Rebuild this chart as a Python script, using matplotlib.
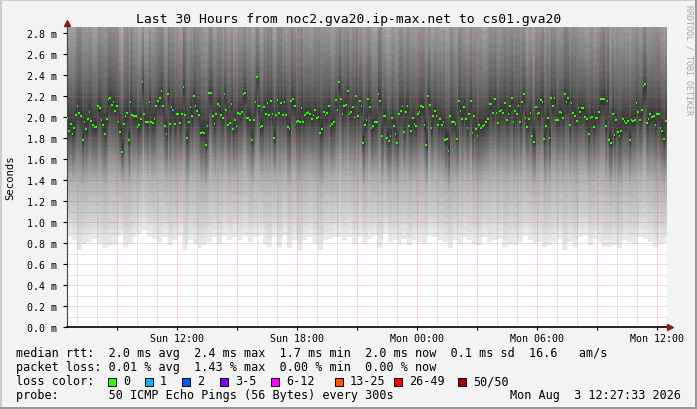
import numpy as np
import matplotlib
matplotlib.use("Agg")
import matplotlib.pyplot as plt
from matplotlib.patches import Rectangle

# median rtt of each 5 min sample in ms, read left to right off the graph
median_ms = [
    1.99, 1.87, 1.93, 1.84, 1.89, 2.02, 2.10, 2.04, 2.01, 1.78, 1.95, 1.88, 1.98, 2.05, 1.96, 1.92,
    1.90, 1.90, 2.10, 2.08, 1.97, 1.92, 1.84, 1.98, 2.17, 2.18, 2.11, 2.14, 2.06, 2.10, 1.95, 1.86,
    1.67, 1.93, 2.01, 2.04, 1.78, 2.14, 2.02, 2.01, 2.01, 1.90, 1.92, 1.98, 2.33, 2.03, 1.95, 1.95,
    2.14, 1.95, 1.94, 1.98, 2.10, 2.15, 2.18, 2.25, 2.10, 1.91, 1.84, 2.22, 1.93, 2.09, 2.07, 1.93,
    2.03, 2.03, 1.94, 2.03, 2.28, 2.02, 1.80, 1.95, 2.09, 2.01, 2.20, 2.10, 2.06, 2.02, 1.85, 1.86,
    1.85, 1.73, 1.91, 2.23,
    2.23, 2.01, 1.93, 2.03, 2.12, 2.10, 2.02, 1.99, 2.22, 2.07, 1.92, 1.94, 2.12, 1.88, 1.97, 1.91,
    2.04, 2.03, 2.05, 2.22, 2.23, 1.99, 1.99, 1.97, 1.78, 1.97, 2.14, 2.38, 2.10, 1.90, 1.91, 2.09,
    2.03, 2.13, 2.02, 2.15, 2.03, 1.80, 2.02, 2.16, 2.04, 2.13, 2.02, 2.14, 2.02, 1.90, 1.88, 2.15,
    2.17, 2.10, 1.95, 1.96, 1.95, 2.08, 1.95, 2.02, 2.04, 2.05, 2.03, 1.98, 2.02, 2.07, 1.99, 2.00,
    1.85, 1.88, 2.05, 2.02, 2.04, 2.10, 1.91, 1.93, 1.95, 2.16, 2.07, 2.33, 2.17, 2.03, 2.10, 2.11,
    2.25, 2.03, 2.05, 2.09, 2.00, 2.20, 2.01, 2.15, 2.10,
    1.75, 1.92, 1.97, 2.17, 2.09, 1.89, 1.91, 1.95, 1.95, 2.22, 2.15, 1.82, 2.01, 2.01, 1.80, 1.77,
    1.82, 1.99, 1.91, 1.84, 1.75, 2.03, 2.06, 2.10, 1.86, 2.05, 2.10, 1.91, 1.87, 1.99, 1.93, 1.91,
    2.03, 2.05, 2.10, 2.09, 1.92, 1.73, 2.20, 2.11, 1.89, 2.01, 2.06, 2.01, 1.92, 1.98, 1.92, 1.95,
    1.78, 1.79, 1.68, 2.01, 1.95, 1.95, 1.93, 1.79, 2.15, 2.06, 1.98, 2.09, 1.98, 1.89, 2.03, 2.15,
    1.85, 2.01, 1.88, 1.82, 1.92, 1.89, 1.91, 1.92, 1.95, 1.98, 2.12, 2.12, 2.04, 2.17, 2.04, 1.94,
    2.06, 2.07, 2.04, 2.13, 1.97, 2.03, 2.10, 2.18, 1.95,
    2.06, 2.03, 2.10, 1.95, 2.14, 2.22, 1.99, 1.90, 1.98, 2.04, 1.82, 1.76, 2.09, 2.03, 2.04, 2.16,
    2.14, 1.79, 1.91, 1.99, 1.80, 2.18, 2.10, 2.18, 1.97, 1.97, 2.05, 2.04, 1.99, 2.22, 2.14, 2.18,
    1.92, 2.13, 2.04, 2.01, 1.96, 2.08, 2.05, 2.08, 2.08, 2.00, 1.98, 1.84, 1.99, 2.00, 1.90, 1.99,
    1.99, 2.05, 2.17, 2.17, 2.17, 1.91, 2.15, 1.78, 1.75, 2.03, 1.83, 1.97, 1.86, 1.82, 1.87, 1.98,
    1.96, 1.94, 1.96, 1.78, 1.97, 1.96, 1.97, 2.13, 2.05, 1.97, 2.07, 2.29, 2.31, 1.94, 1.98, 2.03,
    2.00, 2.01, 1.92, 2.03, 2.03, 1.89, 1.87, 1.79, 1.96,
]

# lowest ping (bottom edge of the smoke) every 15 min, ms
lowest_ms = [
    0.86, 0.83, 0.73, 0.79, 0.81, 0.84, 0.79, 0.75, 0.78, 0.79, 0.87, 0.76, 0.79, 0.86, 0.89,
    0.92, 0.86, 0.84, 0.81, 0.86, 0.78, 0.83, 0.87, 0.73, 0.83, 0.79, 0.75, 0.78, 0.81, 0.86,
    0.79, 0.87, 0.83, 0.86, 0.83, 0.87, 0.81, 0.86, 0.87, 0.79, 0.76, 0.86, 0.76, 0.87, 0.75,
    0.83, 0.73, 0.83, 0.86, 0.79, 0.73, 0.83, 0.84, 0.86, 0.86, 0.83, 0.86, 0.79, 0.86, 0.79,
    0.84, 0.87, 0.76, 0.89, 0.81, 0.83, 0.79, 0.84, 0.78, 0.83, 0.81, 0.79, 0.87, 0.86, 0.83,
    0.81, 0.75, 0.83, 0.79, 0.86, 0.83, 0.79, 0.78, 0.86, 0.81, 0.83, 0.84, 0.76, 0.79, 0.78,
    0.81, 0.87, 0.83, 0.79, 0.81, 0.76, 0.78, 0.81, 0.84, 0.73, 0.81, 0.76, 0.86, 0.87, 0.78,
    0.84, 0.81, 0.76, 0.76, 0.78, 0.75, 0.83, 0.81, 0.79, 0.86, 0.84, 0.81, 0.76, 0.79, 0.80,
]

# sorted 50 pings of a typical sample (ms), read from the smoke shades
ping_profile = [
    0.80, 0.88, 0.94, 0.99, 1.07, 1.15, 1.24, 1.32, 1.40, 1.45,
    1.49, 1.53, 1.57, 1.61, 1.64, 1.67, 1.71, 1.75, 1.79, 1.83,
    1.87, 1.90, 1.93, 1.96, 1.99, 2.01, 2.05, 2.09, 2.14, 2.19,
    2.25, 2.31, 2.38, 2.46, 2.54, 2.62, 2.70, 2.79, 2.88, 2.97,
    3.06, 3.15, 3.25, 3.35, 3.46, 3.58, 3.72, 3.90, 4.15, 4.50,
]

# samples with lost pings: sample index -> pings lost
lost_pings = {62: 1}

loss_colors = ["#26ff00", "#00b8ff", "#0059ff", "#7e00ff", "#ff00ff", "#ff5500", "#ff0000", "#a10000"]
loss_labels = ["0", "1", "2", "3-5", "6-12", "13-25", "26-49", "50/50"]
loss_lower = [0, 1, 2, 3, 6, 13, 26, 50]

hour_ticks = [12, 18, 24, 30, 36]          # hours since Sun 00:00
hour_labels = ["Sun 12:00", "Sun 18:00", "Mon 00:00", "Mon 06:00", "Mon 12:00"]

title = "Last 30 Hours from noc2.gva20.ip-max.net to cs01.gva20"
rtt_line = "median rtt:  2.0 ms avg  2.4 ms max  1.7 ms min  2.0 ms now  0.1 ms sd  16.6   am/s"
loss_line = "packet loss: 0.01 % avg  1.43 % max  0.00 % min  0.00 % now"
probe_line = "probe:       50 ICMP Echo Pings (56 Bytes) every 300s"
stamp = "Mon Aug  3 12:27:33 2026"

t_end = 36 + 27.55 / 60
t_start = t_end - 30
y_top = 2.857

# --- build the smoke from the read values ---
med = np.array(median_ms)
n = len(med)
lo = np.array(lowest_ms)[np.arange(n) * len(lowest_ms) // n]
prof = np.array(ping_profile)
centre = prof[24:26].mean()
k = np.arange(1, 51)

stretch = (centre - lo) / (centre - prof[0])
low_part = lo[:, None] + (prof[None, :] - prof[0]) * stretch[:, None]
high_part = centre + (prof[None, :] - centre) * (stretch ** 2)[:, None]
pings = np.where(k[None, :] <= 25, low_part, high_part)

# how much each ping follows the median of its sample
follow = np.where(k <= 21, 0.7 * (k - 1) / 20,
                  np.where(k <= 25, 0.7 + 0.3 * (k - 21) / 4,
                           np.clip(1.0 - 0.1 * (k - 26), 0.7, 1.0)))
pings = np.sort(pings + follow[None, :] * (med[:, None] - centre), axis=1)

edges = t_start + np.arange(n + 1) * (30.0 / n)

mono = "DejaVu Sans Mono"
plt.rcParams["font.family"] = mono
plt.rcParams["lines.scale_dashes"] = False

W, H = 697, 410
fig = plt.figure(figsize=(W / 100, H / 100), dpi=100, facecolor="#f3f3f3")
ax = fig.add_axes([66.5 / W, (H - 328.3) / H, 600 / W, 300.6 / H])
ax.set_facecolor("white")

for i in range(25):
    g = int(190 / 25 * (24 - i)) + 50
    y1 = np.append(pings[:, i], pings[-1, i])
    y2 = np.append(pings[:, 49 - i], pings[-1, 49 - i])
    ax.fill_between(edges, y1, y2, step="post", color="#%02x%02x%02x" % (g, g, g),
                    linewidth=0, zorder=1)

loss = np.zeros(n, dtype=int)
for idx, cnt in lost_pings.items():
    loss[idx] = cnt
cls = np.searchsorted(loss_lower, loss, side="right") - 1
ax.hlines(med, edges[:-1], edges[1:], colors=[loss_colors[c] for c in cls],
          linewidth=1.5, zorder=4)

ax.set_xlim(t_start, t_end)
ax.set_ylim(0, y_top)

grid_hours = np.arange(9, 37, 3)
ax.set_xticks(grid_hours,
              labels=[hour_labels[hour_ticks.index(h)] if h in hour_ticks else "" for h in grid_hours])
ax.set_xticks(np.arange(7, 37, 1), minor=True)
yt = np.arange(0, 2.81, 0.2)
ax.set_yticks(yt, labels=["%.1f m" % v for v in yt])
ax.set_yticks(np.arange(0.1, 2.86, 0.2), minor=True)

ax.set_axisbelow(False)
ax.grid(which="major", color="#e05050", alpha=0.45, linewidth=0.72, linestyle=(0, (0.72, 0.72)))
ax.grid(which="minor", color="#808080", alpha=0.4, linewidth=0.72, linestyle=(0, (0.72, 0.72)))

ax.tick_params(axis="x", which="major", length=2.5, width=0.8, pad=1.5, labelsize=7.2)
ax.tick_params(axis="x", which="minor", length=0)
ax.tick_params(axis="y", which="major", length=3, width=0.8, pad=4, labelsize=7.2)
ax.tick_params(axis="y", which="minor", length=0)
for tk, h in zip(ax.xaxis.get_major_ticks(), grid_hours):
    if h not in hour_ticks:
        tk.tick1line.set_color("#e07070")

for s in ("top", "right"):
    ax.spines[s].set_visible(False)
ax.spines["left"].set_color("#404040")
ax.spines["left"].set_linewidth(0.8)
ax.spines["bottom"].set_color("black")
ax.spines["bottom"].set_linewidth(1.2)

ax.plot([0], [1.013], marker="^", color="#8b1a1a", markersize=5, transform=ax.transAxes,
        clip_on=False, zorder=6)
ax.plot([1.006], [0], marker=">", color="#8b1a1a", markersize=5, transform=ax.transAxes,
        clip_on=False, zorder=6)


def px(x, y):
    return x / W, 1 - y / H


fig.text(*px(348.5, 19), title, ha="center", va="center", fontsize=9.4)
fig.text(*px(10, 178), "Seconds", rotation=90, ha="center", va="center", fontsize=7.7)
fig.text(*px(688.5, 60), "RRDTOOL / TOBI OETIKER", rotation=270, ha="center", va="center",
         fontsize=6, color="#a8a8a8")

fig.text(*px(16.4, 354), rtt_line, ha="left", va="center", fontsize=8.5)
fig.text(*px(16.4, 368), loss_line, ha="left", va="center", fontsize=8.5)
fig.text(*px(16.4, 382), "loss color:", ha="left", va="center", fontsize=8.5)
fig.text(*px(16.4, 396), probe_line, ha="left", va="center", fontsize=8.5)
fig.text(*px(681, 396), stamp, ha="right", va="center", fontsize=8.5)

box_x = [108, 144.9, 182.2, 220, 271.1, 335.1, 394.2, 458.2]
for bx, col, lab in zip(box_x, loss_colors, loss_labels):
    fig.add_artist(Rectangle(px(bx, 386.5), 8 / W, 8 / H, transform=fig.transFigure,
                             facecolor=col, edgecolor="black", linewidth=0.7))
    fig.text(*px(bx + 15, 382), lab, ha="left", va="center", fontsize=8.5)

# 3d frame of the rrdtool canvas
for (x0, y0, ww, hh, c) in [(0, 0, 2, H, "#cccccc"), (0, 0, W, 2, "#cccccc"),
                            (W - 2, 0, 2, H, "#999999"), (0, H - 2, W, 2, "#999999")]:
    fig.add_artist(Rectangle(px(x0, y0 + hh), ww / W, hh / H, transform=fig.transFigure,
                             facecolor=c, edgecolor="none"))

fig.savefig("out.png", dpi=100, facecolor=fig.get_facecolor())
